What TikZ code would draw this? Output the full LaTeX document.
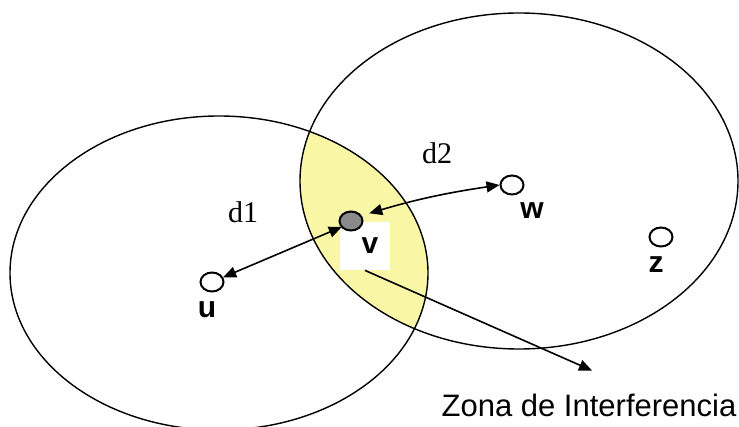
\documentclass[tikz,border=0pt]{standalone}
\usepackage{fontspec}
\setmainfont{Liberation Serif}
\setsansfont{Liberation Sans}
\usetikzlibrary{shapes.geometric,arrows.meta,positioning}
\definecolor{zonayellow}{HTML}{F9F7A6}
\definecolor{nodegray}{HTML}{8A8A8A}

\begin{document}
\begin{tikzpicture}[
  x=0.5pt, y=-0.5pt,
  node distance=0pt,
  station/.style={ellipse, draw=black, line width=1pt, fill=white,
                  minimum width=11.5pt, minimum height=9.5pt, inner sep=0pt},
  stalbl/.style={font=\sffamily\bfseries\fontsize{15}{17}\selectfont},
  distlbl/.style={font=\fontsize{15}{17}\selectfont},
  coverage/.style={draw=black, line width=0.7pt},
  arr/.style={-{Triangle[length=6.5pt,width=5.5pt]}, line width=0.8pt},
  biarr/.style={{Triangle[length=6.5pt,width=5.5pt]}-{Triangle[length=6.5pt,width=5.5pt]}, line width=0.8pt},
]
  \useasboundingbox (0,0) rectangle (739,427);
  % zona de interferencia
  \begin{scope}
    \clip (219,273) ellipse [x radius=209, y radius=157];
    \fill[zonayellow] (519,181) ellipse [x radius=219, y radius=168];
  \end{scope}
  \draw[coverage] (219,273) ellipse [x radius=209, y radius=157];
  \draw[coverage] (519,181) ellipse [x radius=219, y radius=168];

  \node[stalbl, fill=white, minimum width=25pt, minimum height=24pt, inner sep=0pt] (vlbl) at (365,246) {\hspace*{5pt}v};
  \node[station, fill=nodegray] (v) at (351,221) {};
  \node[station] (u) at (212,282) {};
  \node[station] (w) at (512,185) {};
  \node[station] (z) at (661,237) {};
  \node[stalbl, below=1pt of u, xshift=-2.5pt] (ulbl) {u};
  \node[stalbl, below=0pt of w, xshift=10pt] (wlbl) {w};
  \node[stalbl, below=1pt of z, xshift=-2.5pt] (zlbl) {z};
  \node[distlbl] (d1) at (243,212) {d1};
  \node[distlbl] (d2) at (437,153) {d2};
  \node[font=\sffamily\fontsize{15.5}{18}\selectfont] (zona) at (589,405) {Zona de Interferencia};

  \draw[biarr, shorten <=5pt] ([yshift=-1pt]v.center) -- (u);
  \draw[biarr, shorten <=3pt] ([yshift=3pt]v.east) to[bend left=4] (w.west);
  \draw[arr] (vlbl.south) -- ([xshift=1.5pt,yshift=8pt]zona.north);
\end{tikzpicture}
\end{document}
